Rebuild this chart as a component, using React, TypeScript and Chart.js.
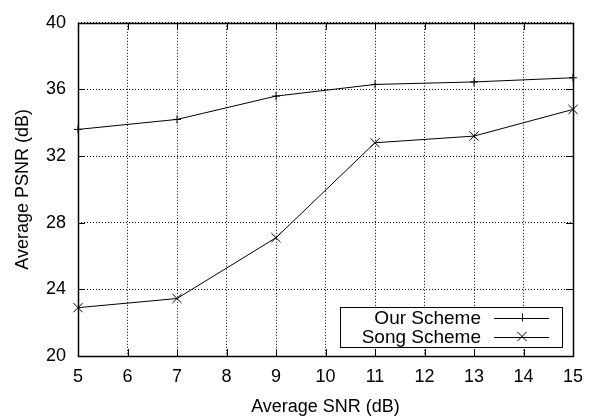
import { useEffect, useRef } from "react";
import { Chart, registerables } from "chart.js";

Chart.register(...registerables);

const snrValues = [5, 7, 9, 11, 13, 15];
const ourScheme = [33.6, 34.2, 35.6, 36.3, 36.45, 36.7];
const songScheme = [22.9, 23.45, 27.1, 32.8, 33.2, 34.8];
const seriesLabels = ["Our Scheme", "Song Scheme"];
const seriesMarkers = ["cross", "crossRot"];
const xTitle = "Average SNR (dB)";
const yTitle = "Average PSNR (dB)";
const xRange = [5, 15];
const yRange = [20, 40];

const FONT = "'Liberation Sans', Arial, Helvetica, sans-serif";

const framePlugin = {
  id: "gnuplotFrame",
  afterDatasetsDraw(chart: any) {
    const { ctx, chartArea } = chart;
    const { left, right, top, bottom } = chartArea;
    const xs = chart.scales.x;
    const ys = chart.scales.y;
    const tl = 7;
    ctx.save();
    ctx.strokeStyle = "#000";
    ctx.lineWidth = 1;
    ctx.setLineDash([]);
    ctx.beginPath();
    xs.ticks.forEach((t: any) => {
      const px = Math.round(xs.getPixelForValue(t.value)) + 0.5;
      ctx.moveTo(px, bottom);
      ctx.lineTo(px, bottom - tl);
      ctx.moveTo(px, top);
      ctx.lineTo(px, top + tl);
    });
    ys.ticks.forEach((t: any) => {
      const py = Math.round(ys.getPixelForValue(t.value)) + 0.5;
      ctx.moveTo(left, py);
      ctx.lineTo(left + tl, py);
      ctx.moveTo(right, py);
      ctx.lineTo(right - tl, py);
    });
    ctx.stroke();
    ctx.lineWidth = 1.5;
    ctx.strokeRect(Math.round(left) + 0.5, Math.round(top) + 0.5, Math.round(right - left), Math.round(bottom - top));
    ctx.restore();
  },
  afterDraw(chart: any) {
    const { ctx, chartArea } = chart;
    const boxRight = chartArea.right - 11;
    const boxBottom = chartArea.bottom - 9;
    const boxW = 222;
    const rowH = 19;
    const n = chart.data.datasets.length;
    const boxH = rowH * n + 2;
    const boxLeft = boxRight - boxW;
    const boxTop = boxBottom - boxH;
    ctx.save();
    ctx.fillStyle = "#fff";
    ctx.fillRect(boxLeft, boxTop, boxW, boxH);
    ctx.strokeStyle = "#000";
    ctx.lineWidth = 1;
    ctx.strokeRect(Math.round(boxLeft) + 0.5, Math.round(boxTop) + 0.5, boxW, boxH);
    ctx.font = `19px ${FONT}`;
    ctx.textAlign = "right";
    ctx.textBaseline = "middle";
    ctx.fillStyle = "#000";
    chart.data.datasets.forEach((ds: any, i: number) => {
      const cy = boxTop + 1 + rowH * i + rowH / 2;
      ctx.fillText(ds.label, boxRight - 81, cy + 1);
      const x0 = boxRight - 68;
      const x1 = boxRight - 13;
      ctx.beginPath();
      ctx.moveTo(x0, Math.round(cy) + 0.5);
      ctx.lineTo(x1, Math.round(cy) + 0.5);
      ctx.stroke();
    });
    chart.data.datasets.forEach((ds: any, i: number) => {
      const cy = boxTop + 1 + rowH * i + rowH / 2;
      const cx = boxRight - 40;
      const r = ds.pointRadius;
      ctx.beginPath();
      if (ds.pointStyle === "cross") {
        ctx.moveTo(Math.round(cx) + 0.5, cy - r);
        ctx.lineTo(Math.round(cx) + 0.5, cy + r);
        ctx.moveTo(cx - r, Math.round(cy) + 0.5);
        ctx.lineTo(cx + r, Math.round(cy) + 0.5);
      } else {
        const d = r * Math.SQRT1_2;
        ctx.moveTo(cx - d, cy - d);
        ctx.lineTo(cx + d, cy + d);
        ctx.moveTo(cx - d, cy + d);
        ctx.lineTo(cx + d, cy - d);
      }
      ctx.stroke();
    });
    ctx.restore();
  },
};

export default function App() {
  const canvasRef = useRef<HTMLCanvasElement | null>(null);

  useEffect(() => {
    document.body.style.margin = "0";
    const canvas = canvasRef.current;
    if (!canvas) return;
    const series = [ourScheme, songScheme];
    const chart = new Chart(canvas, {
      type: "line",
      data: {
        datasets: series.map((vals, i) => ({
          label: seriesLabels[i],
          data: snrValues.map((x, j) => ({ x, y: vals[j] })),
          borderColor: "#000",
          backgroundColor: "#000",
          borderWidth: 1,
          pointStyle: seriesMarkers[i] as any,
          pointRadius: i === 0 ? 4 : 6.5,
          pointBorderWidth: 1,
          pointBorderColor: "#000",
          tension: 0,
          fill: false,
          clip: false as any,
        })),
      },
      options: {
        responsive: false,
        animation: false,
        layout: { padding: { top: 15, right: 27, left: 0, bottom: 0 } },
        plugins: {
          legend: { display: false },
          tooltip: { enabled: false },
        },
        scales: {
          x: {
            type: "linear",
            min: xRange[0],
            max: xRange[1],
            ticks: {
              stepSize: 1,
              color: "#000",
              font: { family: FONT, size: 18 },
              padding: 10,
              maxRotation: 0,
            },
            grid: {
              color: "#000",
              lineWidth: 1,
              drawTicks: false,
            },
            border: { display: false, dash: [1, 2] },
            title: {
              display: true,
              text: xTitle,
              color: "#000",
              font: { family: FONT, size: 18 },
              padding: { top: 0, bottom: 0 },
            },
            afterFit: (s: any) => {
              s.height = 62;
            },
          },
          y: {
            type: "linear",
            min: yRange[0],
            max: yRange[1],
            ticks: {
              stepSize: 4,
              color: "#000",
              font: { family: FONT, size: 18 },
              padding: 12,
            },
            grid: {
              color: "#000",
              lineWidth: 1,
              drawTicks: false,
            },
            border: { display: false, dash: [1, 2] },
            title: {
              display: true,
              text: yTitle,
              color: "#000",
              font: { family: FONT, size: 18 },
              padding: { top: 12, bottom: 0 },
            },
            afterFit: (s: any) => {
              s.width = 78;
            },
          },
        },
      },
      plugins: [framePlugin],
    });
    return () => chart.destroy();
  }, []);

  return (
    <div style={{ width: 600, height: 418 }}>
      <canvas ref={canvasRef} width={600} height={418} style={{ display: "block" }} />
    </div>
  );
}
